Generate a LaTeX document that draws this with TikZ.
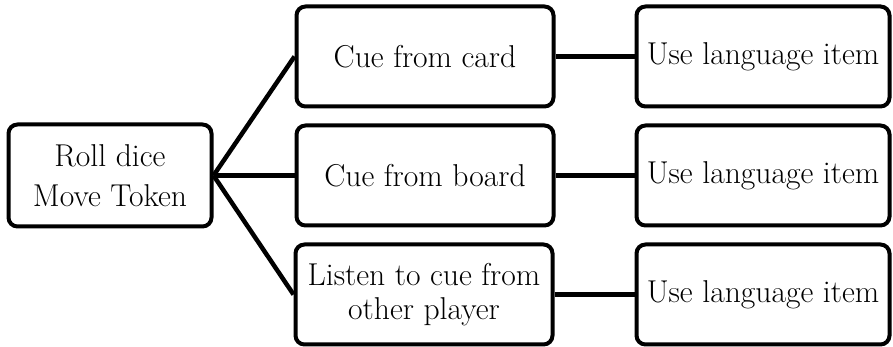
\documentclass[tikz,border=0pt]{standalone}
\begin{document}
\begin{tikzpicture}[x=1pt,y=1pt,
  box/.style={draw=black, line width=4pt, rounded corners=9pt, align=center,
    inner sep=0pt, font=\fontsize{31.6}{40}\selectfont},
  leftbox/.style={box, minimum width=203pt, minimum height=102pt},
  midbox/.style={box, minimum width=257pt, minimum height=100pt},
  rightbox/.style={box, minimum width=253pt, minimum height=100pt},
  link/.style={line width=4.5pt}]
\useasboundingbox (0,0) rectangle (893,347);
\node[leftbox] (roll) at (110,171.5) {Roll dice\\Move Token};
\node[midbox] (card) at (425,290.5) {Cue from card};
\node[midbox] (board) at (425,171.5) {Cue from board};
\node[midbox, font=\fontsize{31.6}{34}\selectfont] (listen) at (424,52.5) {Listen to cue from\\other player};
\node[rightbox] (use1) at (763,290.5) {Use language item};
\node[rightbox] (use2) at (763,171.5) {Use language item};
\node[rightbox] (use3) at (763,52.5) {Use language item};
\draw[link] (roll.east) -- (card.west);
\draw[link] (roll.east) -- (board.west);
\draw[link] (roll.east) -- (listen.west);
\draw[link] (card.east) -- (use1.west);
\draw[link] (board.east) -- (use2.west);
\draw[link] (listen.east) -- (use3.west);
\end{tikzpicture}
\end{document}
